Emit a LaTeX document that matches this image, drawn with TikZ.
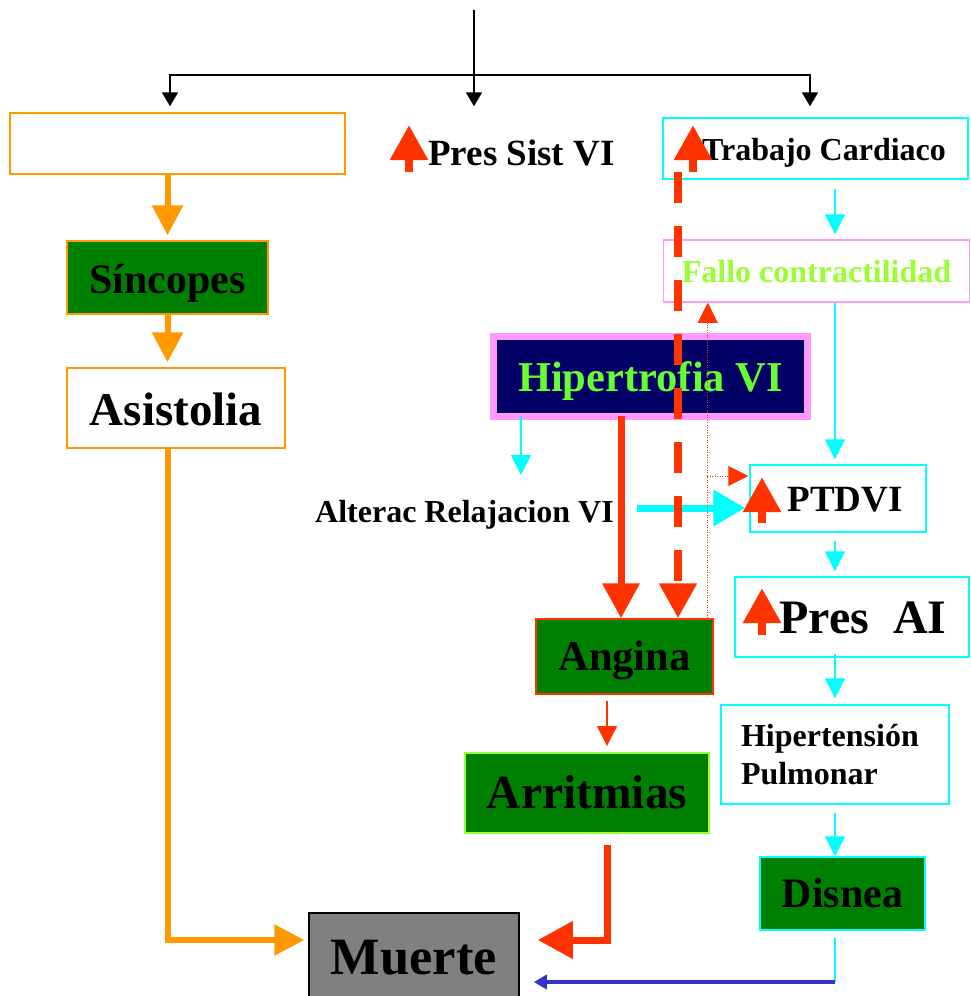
\documentclass[tikz,border=0pt]{standalone}
\usepackage{fontspec}
\setmainfont{Liberation Serif}
\usepackage{tikz}
\usetikzlibrary{arrows.meta,positioning}
\definecolor{naranja}{HTML}{FF9900}
\definecolor{verde}{HTML}{008000}
\definecolor{cian}{HTML}{00FFFF}
\definecolor{rosa}{HTML}{FF99FF}
\definecolor{marino}{HTML}{000066}
\definecolor{lima}{HTML}{66FF33}
\definecolor{limaclara}{HTML}{99FF33}
\definecolor{rojo}{HTML}{FF3300}
\definecolor{gris}{HTML}{808080}
\definecolor{azul}{HTML}{3333CC}
\newcommand{\tam}[1]{\fontsize{#1}{#1}\selectfont}

\begin{document}
\begin{tikzpicture}[
    x=1pt, y=-1pt,
    box/.style={draw, line width=1.5pt, inner sep=0pt, align=center, font=\bfseries},
    baja/.style={text height=#1, text depth=0pt},
    negra/.style={black, line width=1.8pt},
    negraflecha/.style={negra, -{Triangle[length=14pt,width=16pt]}},
    naranjaflecha/.style={naranja, line width=6pt, -{Triangle[length=30pt,width=30pt]}},
    cianflecha/.style={cian, line width=1.5pt, -{Triangle[length=20pt,width=20pt]}},
    cianancha/.style={cian, line width=7pt, -{Triangle[length=32pt,width=35pt]}},
    rojaflecha/.style={rojo, line width=7pt, -{Triangle[length=35pt,width=36pt]}},
    rojofina/.style={rojo, line width=1.5pt, -{Triangle[length=20pt,width=20pt]}},
    rojopunteado/.style={rojo, line width=1pt, dash pattern=on 1pt off 1.5pt, -{Triangle[length=20pt,width=20pt]}},
    azulflecha/.style={azul, line width=3.5pt, -{Triangle[length=13pt,width=14pt]}},
    subida/.style={rojo, line width=8.5pt, -{Triangle[length=35pt,width=36pt]}}
  ]
    \useasboundingbox[fill=white] (0,0) rectangle (970,996);
    \node[box, draw=naranja, minimum width=335pt, minimum height=61pt] (vacio) at (177.5,143.5) {};
    \node[anchor=base west, inner sep=0pt, font=\bfseries\tam{37}] (pres) at (428,165) {Pres Sist VI};
    \node[box, baja=23pt, draw=cian, minimum width=305pt, minimum height=61pt, font=\bfseries\tam{32}] (trabajo) at (815.5,148.5) {\hspace*{17pt}Trabajo Cardiaco};
    \node[box, baja=23.4pt, draw=rosa, text=limaclara, minimum width=306pt, minimum height=62pt, font=\bfseries\tam{32}] (fallo) at (816.5,271) {Fallo contractilidad};
    \node[box, baja=30.4pt, draw=rosa, line width=7pt, fill=marino, text=lima, minimum width=314pt, minimum height=80pt, font=\bfseries\tam{42.5}] (hiper) at (650.5,376.5) {Hipertrofia VI};
    \node[anchor=base west, inner sep=0pt, font=\bfseries\tam{32}] (alterac) at (315,522) {Alterac Relajacion VI};
    \node[box, baja=26.4pt, draw=cian, minimum width=176pt, minimum height=67pt, font=\bfseries\tam{37}] (ptdvi) at (838,498.5) {\hspace*{14pt}PTDVI};
    \node[box, baja=32.6pt, draw=cian, minimum width=234pt, minimum height=80pt, font=\bfseries\tam{48}] (presai) at (852,617) {\hspace*{22pt}Pres\ \ AI};
    \node[box, draw=cian, minimum width=228pt, minimum height=99pt, align=left, text width=188pt, font=\bfseries\fontsize{32}{38}\selectfont] (hipert) at (835,754.5) {Hipertensión\\Pulmonar};
    \node[box, baja=27.6pt, draw=cian, fill=verde, minimum width=165pt, minimum height=73pt, font=\bfseries\tam{42}] (disnea) at (842.5,893.5) {Disnea};
    \node[box, baja=31.6pt, draw=naranja, fill=verde, minimum width=201pt, minimum height=73pt, font=\bfseries\tam{42}] (sincopes) at (167.5,277.5) {Síncopes};
    \node[box, baja=34pt, draw=naranja, minimum width=218pt, minimum height=80pt, font=\bfseries\tam{47}] (asistolia) at (176,408) {Asistolia};
    \node[box, baja=28.4pt, draw=rojo, fill=verde, minimum width=177pt, minimum height=75pt, font=\bfseries\tam{42.5}] (angina) at (624.5,656.5) {Angina};
    \node[box, baja=30.6pt, draw=limaclara, line width=2pt, fill=verde, minimum width=244pt, minimum height=80pt, font=\bfseries\tam{47.5}] (arritmias) at (587,793) {Arritmias};
    \node[box, baja=35pt, draw=black, fill=gris, minimum width=210pt, minimum height=87pt, font=\bfseries\tam{52.5}] (muerte) at (414,956.5) {Muerte};

    \coordinate (origen) at (474,10);
    \coordinate (reparto) at (474,75);
    \coordinate (col) at (835,0);
    \coordinate (relax) at (521,475);
    \coordinate (rojo1) at ([xshift=-3.5pt]angina.north);
    \coordinate (trazo) at (678,172);
    \coordinate (puntos) at ([xshift=-6pt]angina.north east);
    \coordinate (rama) at (707,476);
    \coordinate (bajada) at ([xshift=20pt]arritmias.north);
    \coordinate (esquina) at (835,982);
    \path ([yshift=14pt]alterac.base east) coordinate (relajo);

    \draw[negra] (origen) -- (reparto);
    \draw[negraflecha] (reparto) -| ([xshift=-7.5pt,yshift=6pt]vacio.north);
    \draw[negraflecha, shorten >=6pt] (reparto) -- (reparto |- vacio.north);
    \draw[negraflecha] (reparto) -| ([xshift=-5.5pt,yshift=11pt]trabajo.north);

    \draw[naranjaflecha, shorten >=5pt] (vacio.south -| sincopes.north) -- (sincopes.north);
    \draw[naranjaflecha, shorten >=5pt] (sincopes.south) -- (asistolia.north -| sincopes.south);
    \draw[naranjaflecha, shorten >=4pt] (asistolia.south -| sincopes.south) |- ([yshift=16.5pt]muerte.west);

    \draw[cianflecha, shorten <=9pt, shorten >=5pt] (trabajo.south -| col) -- (fallo.north -| col);
    \draw[cianflecha, shorten >=5pt] (fallo.south -| col) -- (ptdvi.north -| col);
    \draw[cianflecha, shorten <=8pt, shorten >=5pt] (ptdvi.south -| col) -- (presai.north -| col);
    \draw[cianflecha, shorten <=-4pt, shorten >=6pt] (presai.south -| col) -- (hipert.north -| col);
    \draw[cianflecha, shorten <=8pt] (hipert.south -| col) -- (disnea.north -| col);
    \draw[cian, line width=1.5pt, shorten <=7pt] (disnea.south -| esquina) -- (esquina);
    \draw[azulflecha, shorten >=14pt] (esquina) -- (esquina -| muerte.east);

    \draw[cianflecha, shorten <=-4pt] (hiper.south -| relax) -- (relax);
    \draw[cianancha, shorten <=23pt, shorten >=4pt] (relajo) -- (relajo -| ptdvi.west);

    \draw[rojaflecha, shorten <=-4pt] (hiper.south -| rojo1) -- (rojo1);
    \draw[rojaflecha, line width=8pt, dash pattern=on 31pt off 23pt] (trazo) -- (trazo |- angina.north);
    \draw[rojopunteado] (puntos) -- (puntos |- fallo.south);
    \draw[rojopunteado, shorten >=1pt] (rama) -- (rama -| ptdvi.west);
    \draw[rojofina, shorten <=6pt, shorten >=6pt] (angina.south -| bajada) -- (bajada);
    \draw[rojaflecha, shorten <=11pt, shorten >=18pt] (arritmias.south -| bajada) |- ([yshift=16.5pt]muerte.east);

    \draw[subida] (409,172) -- (409,125);
    \draw[subida] (693,172) -- (693,125);
    \draw[subida] (762,523) -- (762,477);
    \draw[subida] (762,635) -- (762,588);
  \end{tikzpicture}
\end{document}
